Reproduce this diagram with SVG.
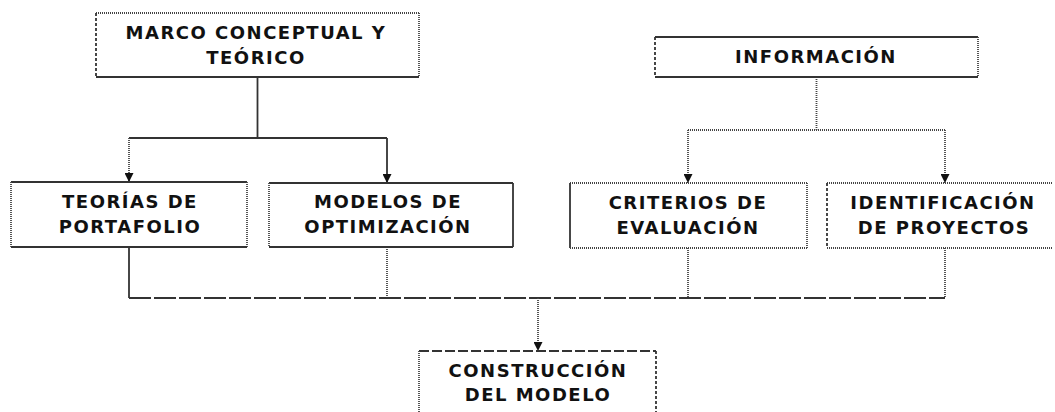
<svg xmlns="http://www.w3.org/2000/svg" width="1055" height="412" viewBox="0 0 1055 412">
<style>
text{font-family:"DejaVu Sans","Verdana",sans-serif;font-weight:bold;font-size:18px;letter-spacing:1.5px;fill:#111;text-anchor:middle}
.bg{fill:#fff;stroke:none}
.s{stroke:#333;stroke-width:1.8;fill:none}
.d{stroke:#444;stroke-width:1.8;stroke-dasharray:1 1;fill:none}
.m{stroke:#333;stroke-width:1.8;stroke-dasharray:3 2;fill:none}
.l{stroke:#333;stroke-width:1.8;stroke-dasharray:22 3;fill:none}
</style>
<defs>
<marker id="ah" viewBox="0 0 10 10" refX="10" refY="5" markerWidth="9" markerHeight="9" markerUnits="userSpaceOnUse" orient="auto">
<path d="M0,0 L10,5 L0,10 z" fill="#111"/>
</marker>
</defs>
<rect width="1055" height="412" fill="#fff"/>

<g id="connectors">
<line class="s" x1="257.5" y1="77" x2="257.5" y2="138"/>
<line class="s" x1="129" y1="138" x2="387" y2="138"/>
<line class="d" x1="129" y1="138" x2="129" y2="182" marker-end="url(#ah)"/>
<line class="s" x1="387" y1="138" x2="387" y2="183" marker-end="url(#ah)"/>
<line class="d" x1="816.5" y1="77" x2="816.5" y2="130"/>
<line class="d" x1="688" y1="130" x2="945" y2="130"/>
<line class="d" x1="688" y1="130" x2="688" y2="183" marker-end="url(#ah)"/>
<line class="d" x1="945" y1="130" x2="945" y2="183" marker-end="url(#ah)"/>
<line class="s" x1="129" y1="247" x2="129" y2="298"/>
<line class="d" x1="387" y1="247" x2="387" y2="298"/>
<line class="d" x1="688" y1="248" x2="688" y2="298"/>
<line class="d" x1="945" y1="248" x2="945" y2="298"/>
<line class="l" x1="129" y1="298" x2="945" y2="298"/>
<line class="d" x1="538" y1="298" x2="538" y2="351" marker-end="url(#ah)"/>
</g>

<g id="marco">
<rect class="bg" x="96" y="13" width="323" height="64"/>
<line class="d" x1="96" y1="13" x2="419" y2="13"/>
<line class="m" x1="96" y1="13" x2="96" y2="77"/>
<line class="d" x1="419" y1="13" x2="419" y2="77"/>
<line class="s" x1="96" y1="77" x2="419" y2="77"/>
<text x="256" y="39">MARCO CONCEPTUAL Y</text>
<text x="256" y="64">TEÓRICO</text>
</g>

<g id="informacion">
<rect class="bg" x="655" y="37" width="323" height="40"/>
<line class="s" x1="655" y1="37" x2="978" y2="37"/>
<line class="m" x1="655" y1="37" x2="655" y2="77"/>
<line class="d" x1="978" y1="37" x2="978" y2="77"/>
<line class="s" x1="655" y1="77" x2="978" y2="77"/>
<text x="816" y="63">INFORMACIÓN</text>
</g>

<g id="teorias">
<rect class="bg" x="11" y="182" width="236" height="65"/>
<line class="s" x1="11" y1="182" x2="247" y2="182"/>
<line class="d" x1="11" y1="182" x2="11" y2="247"/>
<line class="d" x1="247" y1="182" x2="247" y2="247"/>
<line class="s" x1="11" y1="247" x2="247" y2="247"/>
<text x="130" y="208">TEORÍAS DE</text>
<text x="130" y="233">PORTAFOLIO</text>
</g>

<g id="modelos">
<rect class="bg" x="269" y="183" width="244" height="64"/>
<line class="s" x1="269" y1="183" x2="513" y2="183"/>
<line class="d" x1="269" y1="183" x2="269" y2="247"/>
<line class="s" x1="513" y1="183" x2="513" y2="247"/>
<line class="s" x1="269" y1="247" x2="513" y2="247"/>
<text x="388" y="208">MODELOS DE</text>
<text x="388" y="233">OPTIMIZACIÓN</text>
</g>

<g id="criterios">
<rect class="bg" x="570" y="183" width="237" height="65"/>
<line class="d" x1="570" y1="183" x2="807" y2="183"/>
<line class="s" x1="570" y1="183" x2="570" y2="248"/>
<line class="d" x1="807" y1="183" x2="807" y2="248"/>
<line class="d" x1="570" y1="248" x2="807" y2="248"/>
<text x="688" y="209">CRITERIOS DE</text>
<text x="688" y="234">EVALUACIÓN</text>
</g>

<g id="identificacion">
<rect class="bg" x="827" y="183" width="226" height="65"/>
<line class="d" x1="827" y1="183" x2="1053" y2="183"/>
<line class="m" x1="827" y1="183" x2="827" y2="248"/>
<line class="d" x1="827" y1="248" x2="1053" y2="248"/>
<text x="943" y="209">IDENTIFICACIÓN</text>
<text x="944" y="234">DE PROYECTOS</text>
</g>

<g id="construccion">
<rect class="bg" x="419" y="351" width="237" height="70"/>
<line class="l" x1="419" y1="351" x2="656" y2="351" style="stroke-dasharray:10 3"/>
<line class="d" x1="419" y1="351" x2="419" y2="412"/>
<line class="m" x1="656" y1="351" x2="656" y2="412"/>
<text x="538" y="377">CONSTRUCCIÓN</text>
<text x="538" y="401">DEL MODELO</text>
</g>
</svg>
